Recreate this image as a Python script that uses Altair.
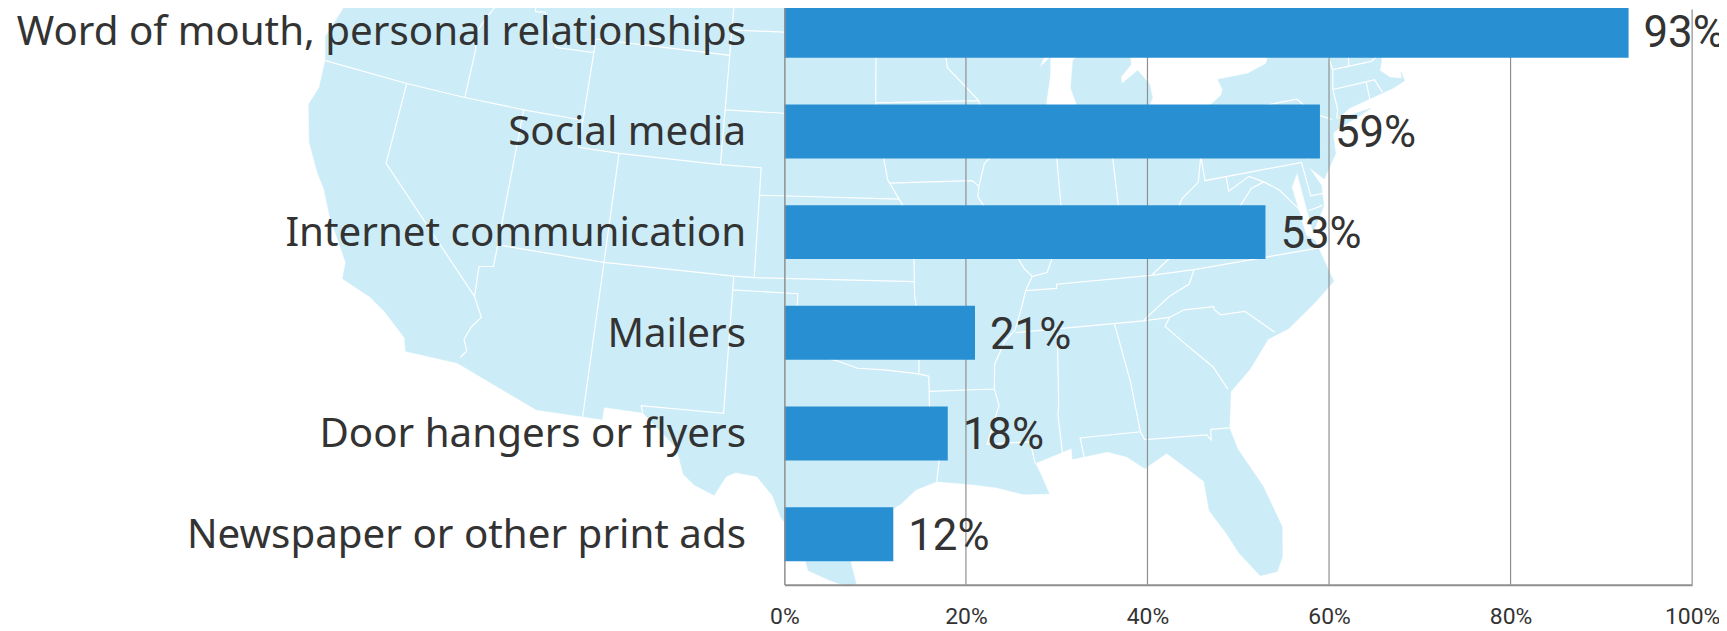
import altair as alt

categories = ["Word of mouth, personal relationships", "Social media", "Internet communication",
              "Mailers", "Door hangers or flyers", "Newspaper or other print ads"]
values = [93, 59, 53, 21, 18, 12]
value_labels = ["93%", "59%", "53%", "21%", "18%", "12%"]
grid_values = [20, 40, 60, 80, 100]
axis_ticks = [0, 20, 40, 60, 80, 100]

# Contiguous US outline, (lon, lat), read approximately
us_outline = [(-124.7,48.4),(-123.2,48.15),(-122.75,48.15),(-122.45,47.4),(-122.3,47.9),(-122.5,48.7),(-122.76,49.0),
 (-110,49.0),(-95.15,49.0),(-95.15,49.38),(-94.8,49.3),(-94.6,48.75),(-93.0,48.6),(-92.0,48.3),(-91.0,48.1),(-90.0,48.1),(-89.5,48.0),
 (-90.5,47.6),(-92.1,46.75),(-90.9,46.95),(-90.4,46.55),(-89.0,46.95),(-88.3,47.35),(-87.9,47.47),(-88.4,46.85),(-87.4,46.5),(-86.5,46.5),(-85.0,46.75),
 (-84.6,46.45),(-84.1,46.3),(-84.0,46.0),(-84.7,45.95),(-85.6,46.05),(-86.5,45.85),(-87.0,45.7),(-87.6,45.1),(-88.0,44.55),(-87.4,44.9),
 (-87.5,44.2),(-87.9,43.0),(-87.8,42.3),(-87.55,41.7),(-87.2,41.65),(-86.5,42.1),(-86.25,43.0),(-86.5,43.7),(-86.25,44.7),(-85.6,45.0),(-85.0,45.4),
 (-84.75,45.78),(-83.5,45.35),(-83.3,44.9),(-83.3,44.3),(-83.9,43.9),(-83.9,43.65),(-83.0,44.05),(-82.5,43.5),(-82.45,43.0),(-82.9,42.4),(-83.15,42.05),
 (-83.45,41.72),(-82.7,41.5),(-81.7,41.5),(-80.5,41.98),(-79.0,42.7),(-78.9,42.9),(-79.05,43.27),(-77.5,43.28),(-76.5,43.5),(-76.2,43.9),(-76.3,44.2),
 (-75.0,44.95),(-74.7,45.0),(-71.5,45.0),(-71.3,45.3),(-70.9,45.25),(-70.3,45.9),(-70.0,46.7),(-69.25,47.45),(-68.3,47.35),(-67.8,47.07),(-67.8,45.7),
 (-67.45,45.3),(-67.0,44.85),(-68.0,44.4),(-69.0,44.0),(-70.2,43.6),(-70.7,43.05),(-70.8,42.6),(-71.0,42.3),(-70.6,41.95),(-70.05,41.8),(-70.0,42.05),
 (-69.95,41.7),(-70.6,41.55),(-71.4,41.45),(-72.9,41.25),(-73.7,40.95),(-71.9,41.05),(-73.9,40.55),(-74.0,40.45),(-74.1,39.75),(-74.9,38.95),(-75.5,39.5),
 (-75.1,38.75),(-75.2,38.0),(-75.95,37.15),(-76.0,37.95),(-76.1,39.4),(-76.5,38.9),(-76.4,38.1),(-76.3,37.1),(-75.95,36.85),(-75.5,35.25),(-76.5,34.65),
 (-77.9,33.9),(-78.9,33.65),(-79.9,32.7),(-80.9,32.0),(-81.2,30.7),(-81.0,29.9),(-80.2,28.4),(-79.7,26.8),(-79.9,25.7),(-80.2,25.2),(-80.9,25.15),
 (-81.6,26.1),(-82.0,26.9),(-82.55,27.8),(-82.6,28.9),(-83.4,29.6),(-84.0,30.1),(-85.0,29.65),(-85.7,30.15),(-86.5,30.4),(-88.0,30.25),(-88.0,30.65),
 (-88.9,30.4),(-89.6,30.2),(-89.4,29.8),(-89.1,29.05),(-90.2,29.1),(-91.3,29.4),(-92.3,29.55),(-93.8,29.7),(-94.7,29.4),(-95.3,28.9),(-96.4,28.35),
 (-97.2,27.6),(-97.4,26.8),(-97.15,25.95),(-97.5,25.85),(-98.2,26.05),(-99.1,26.4),(-99.5,27.5),(-100.3,28.3),(-100.7,29.1),(-101.4,29.77),(-102.3,29.87),
 (-102.7,29.7),(-103.15,28.98),(-104.0,29.3),(-104.5,29.65),(-104.9,30.6),(-106.5,31.75),(-108.2,31.78),(-108.2,31.33),(-111.07,31.33),(-114.8,32.5),
 (-117.12,32.53),(-117.3,33.0),(-118.4,33.75),(-119.2,34.15),(-120.6,34.55),(-120.65,35.15),(-121.9,36.6),(-122.5,37.5),(-123.0,38.0),(-123.8,39.0),
 (-124.35,40.3),(-124.1,41.0),(-124.2,42.0),(-124.55,42.85),(-124.1,44.0),(-123.95,46.2),(-124.1,46.9),(-124.7,48.4)]

# State borders, (lon, lat), read approximately
state_lines = [
 [(-123.95,46.2),(-123.2,46.15),(-122.8,45.7),(-121.2,45.65),(-119.3,45.93),(-118.98,46.0),(-116.92,46.0)],
 [(-117.03,49),(-117.04,46.4),(-116.92,46.0),(-116.5,45.5),(-116.85,45.0),(-117.2,44.4),(-117.03,43.8),(-117.03,42)],
 [(-124.2,42),(-120,42),(-117.03,42),(-114.04,42),(-111.05,42)],
 [(-120,42),(-120,39),(-114.63,35.0),(-114.15,34.3),(-114.5,33.9),(-114.72,33.4),(-114.5,33.0),(-114.72,32.72)],
 [(-114.04,42),(-114.04,37),(-114.05,36.2),(-114.7,36.1),(-114.63,35)],
 [(-116.05,49),(-116.05,48),(-115.7,47.5),(-114.7,46.7),(-114.4,45.6),(-113.9,45.65),(-113.45,44.95),(-113.0,44.45),(-111.05,44.5),(-111.05,45)],
 [(-111.05,45),(-104.05,45),(-104.05,41),(-109.05,41),(-111.05,41),(-111.05,44.5)],
 [(-104.05,49),(-104.05,45)],
 [(-111.05,41),(-111.05,42)],
 [(-109.05,41),(-109.05,31.33)],
 [(-114.04,37),(-109.05,37),(-103,37),(-102.05,37),(-94.62,37)],
 [(-104.05,41),(-102.05,41),(-102.05,37)],
 [(-102.05,40),(-95.3,40)],
 [(-103.0,37),(-103.0,32),(-106.6,32),(-106.5,31.75)],
 [(-103,36.5),(-100,36.5),(-100,34.56),(-99.2,34.3),(-98.1,34.1),(-97.2,33.85),(-96,33.8),(-94.48,33.64)],
 [(-104.05,45.94),(-96.56,45.94)],
 [(-104.05,43),(-98.5,43),(-97.9,42.8),(-96.45,42.5),(-96.1,41.7),(-95.85,40.7),(-95.3,40),(-94.62,39.1),(-94.62,36.5),(-94.43,35.4),(-94.48,33.64),(-94.04,33.55),(-94.04,31.99),(-93.55,31.2),(-93.8,29.7)],
 [(-94.04,33.0),(-91.17,33.0)],
 [(-97.2,49),(-96.6,46.3),(-96.56,45.94),(-96.45,45.3),(-96.45,43.5),(-91.22,43.5)],
 [(-96.45,43.5),(-96.6,42.5)],
 [(-95.77,40.58),(-91.73,40.6),(-91.42,40.38)],
 [(-92.1,46.75),(-92.3,46.1),(-92.9,45.6),(-92.75,44.75),(-91.22,43.5),(-91.1,42.7),(-90.2,41.8),(-91.1,41.2),(-91.42,40.38),(-91.5,40.0),(-90.7,39.0),(-90.2,38.7),(-90.2,38.4),(-89.5,37.3),(-89.15,37.0),(-89.5,36.5),(-89.7,36.0),(-90.1,35.1),(-90.6,34.7),(-91.1,33.9),(-91.17,33.0),(-91.0,32.4),(-91.6,31.0),(-89.75,31.0),(-89.6,30.2)],
 [(-90.64,42.5),(-87.8,42.5)],
 [(-87.6,45.1),(-88.1,45.9),(-89.0,46.15),(-90.4,46.55)],
 [(-87.53,41.7),(-87.53,39.35),(-87.6,38.7),(-88.05,37.8)],
 [(-89.15,37.0),(-88.45,37.1),(-88.05,37.8),(-87.1,37.8),(-86.3,38.0),(-85.7,38.3),(-85.4,38.7),(-84.8,39.1),(-84.3,38.8),(-83.6,38.65),(-82.6,38.4),(-82.2,38.6),(-81.75,39.2),(-80.85,39.7),(-80.52,40.64),(-80.52,41.98)],
 [(-84.8,39.1),(-84.8,41.76)],
 [(-87.2,41.76),(-84.8,41.76),(-83.45,41.72)],
 [(-79.76,42.27),(-79.76,42.0),(-75.35,42.0),(-74.7,41.36),(-75.1,40.9),(-74.75,40.2),(-75.5,39.8)],
 [(-80.52,40.64),(-80.52,39.72),(-75.79,39.72),(-75.7,38.46),(-75.05,38.45)],
 [(-75.95,37.95),(-75.25,38.03)],
 [(-79.48,39.72),(-79.48,39.2),(-78.4,39.6),(-77.75,39.3),(-77.1,38.9),(-76.3,38.0)],
 [(-77.75,39.3),(-78.4,39.15),(-79.3,38.4),(-80.3,37.5),(-81.7,37.2),(-82.0,37.5),(-82.6,38.2),(-82.6,38.4)],
 [(-81.97,37.54),(-83.67,36.6)],
 [(-75.9,36.55),(-81.68,36.59),(-83.67,36.6),(-88.05,36.65),(-88.07,36.5),(-89.5,36.5)],
 [(-81.68,36.59),(-82.0,36.1),(-83.0,35.75),(-84.3,35.0)],
 [(-90.1,35.0),(-84.3,35.0),(-83.1,35.0),(-82.4,35.2),(-81.05,35.15),(-81.05,35.05),(-80.8,34.82),(-79.7,34.8),(-78.55,33.86)],
 [(-83.1,35.0),(-83.35,34.7),(-82.6,34.0),(-81.5,33.0),(-81.0,32.1)],
 [(-85.6,35.0),(-85.18,32.85),(-85.0,31.0),(-87.6,31.0),(-87.5,30.3)],
 [(-85.0,31.0),(-84.86,30.7),(-82.2,30.57),(-82.05,30.36),(-82.0,30.75),(-81.2,30.7)],
 [(-88.2,35.0),(-88.4,32.3),(-88.47,31.9),(-88.4,30.35)],
 [(-73.35,45.0),(-73.4,43.6),(-73.27,42.75),(-73.5,42.05),(-73.5,41.3),(-73.65,41.0)],
 [(-73.27,42.75),(-71.3,42.7),(-70.8,42.87)],
 [(-71.5,45.0),(-72.05,44.1),(-72.45,42.73)],
 [(-71.08,45.3),(-70.97,43.35),(-70.7,43.07)],
 [(-73.5,42.05),(-71.8,42.02),(-71.38,42.02),(-71.15,41.5)],
 [(-71.8,42.02),(-71.85,41.32)],
 [(-74.7,41.36),(-73.9,41.0)],
]

features = [{"type": "Feature", "properties": {"kind": "land"},
             "geometry": {"type": "Polygon", "coordinates": [[list(p) for p in us_outline]]}},
            {"type": "Feature", "properties": {"kind": "borders"},
             "geometry": {"type": "MultiLineString", "coordinates": [[list(p) for p in l] for l in state_lines]}}]

TEXT = "#333333"
GRID = "#8f8f8f"
projection = dict(type="albers", scale=1570, translate=[88, 226.5])

land = alt.Chart(alt.InlineData(values=features[:1])).mark_geoshape(
    fill="#CCECF7", stroke="#CCECF7", strokeWidth=0.5, clip=False).project(**projection)
borders = alt.Chart(alt.InlineData(values=features[1:])).mark_geoshape(
    filled=False, stroke="#FFFFFF", strokeWidth=1.2, clip=False).project(**projection)

bars_df = alt.Data(values=[{"c": c, "v": v, "l": l} for c, v, l in zip(categories, values, value_labels)])

x_scale = alt.Scale(domain=[0, 100])
y_scale = alt.Scale(domain=categories, range=[-29.2, 577.8], paddingInner=0.4643, paddingOuter=0.232)
x_axis = alt.Axis(values=axis_ticks, labelExpr="datum.value + '%'", title=None, grid=False,
                  ticks=False, domainColor=GRID, domainWidth=2, labelColor=TEXT, labelFontSize=23,
                  labelFont="Roboto", labelPadding=21, labelFlush=False, zindex=1)
y_axis = alt.Axis(title=None, ticks=False, domainColor=GRID, domainWidth=1.5, labelColor=TEXT,
                  labelFontSize=40.5, labelFont="Noto Sans", labelPadding=39, labelOffset=2, labelLimit=800, zindex=1)

grid = alt.Chart(alt.Data(values=[{"g": g} for g in grid_values])).mark_rule(
    color=GRID, strokeWidth=1.2).encode(
    x=alt.X("g:Q", scale=x_scale, axis=x_axis))

bars = alt.Chart(bars_df).mark_bar(color="#2890D2").encode(
    x=alt.X("v:Q", scale=x_scale, axis=x_axis),
    y=alt.Y("c:N", scale=y_scale, sort=categories, axis=y_axis),
)

labels = alt.Chart(bars_df).mark_text(
    align="left", baseline="middle", dx=15, dy=3, fontSize=44, font="Roboto", color=TEXT
).encode(
    x=alt.X("v:Q", scale=x_scale, axis=x_axis),
    y=alt.Y("c:N", scale=y_scale, sort=categories, axis=y_axis),
    text="l:N",
)

chart = alt.layer(land, borders, grid, bars, labels).properties(
    width=912, height=578,
    autosize=alt.AutoSizeParams(type="none"),
    padding={"left": 780, "top": 0, "right": 27, "bottom": 45},
).configure_view(stroke=None)

chart.save("out.html", embed_options={"renderer": "svg", "actions": False})
